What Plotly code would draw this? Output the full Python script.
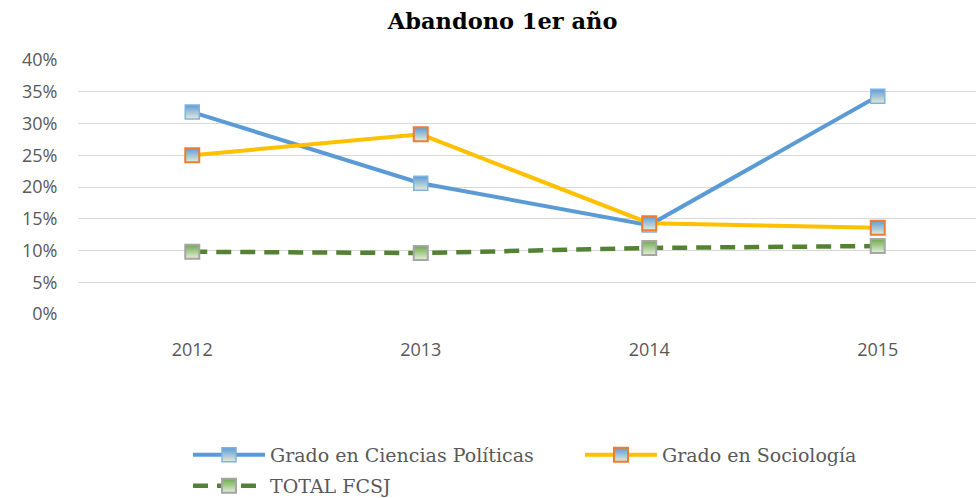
import plotly.graph_objects as go

years = ["2012", "2013", "2014", "2015"]
ciencias_politicas = [0.318, 0.206, 0.140, 0.343]
sociologia = [0.250, 0.283, 0.143, 0.136]
total_fcsj = [0.098, 0.096, 0.104, 0.107]
y_ticks = [0, 0.05, 0.10, 0.15, 0.20, 0.25, 0.30, 0.35, 0.40]

fig = go.Figure()

fig.add_trace(go.Scatter(
    x=years, y=ciencias_politicas, name="Grado en Ciencias Políticas",
    mode="lines+markers", legend="legend",
    line=dict(color="#5B9BD5", width=4),
    marker=dict(symbol="square", size=14, color="#5E9BD6",
                gradient=dict(type="vertical", color="#E3EDD8"),
                line=dict(color="#7FB2E0", width=1.5)),
))
fig.add_trace(go.Scatter(
    x=years, y=sociologia, name="Grado en Sociología",
    mode="lines+markers", legend="legend2",
    line=dict(color="#FFC000", width=4),
    marker=dict(symbol="square", size=14, color="#5E9BD6",
                gradient=dict(type="vertical", color="#E3EDD8"),
                line=dict(color="#ED7D31", width=2)),
))
fig.add_trace(go.Scatter(
    x=years, y=total_fcsj, name="TOTAL FCSJ",
    mode="lines+markers", legend="legend3",
    line=dict(color="#548235", width=4.5, dash="15px,9px"),
    marker=dict(symbol="square", size=14, color="#6DAA4C",
                gradient=dict(type="vertical", color="#E6F0DC"),
                line=dict(color="#A5A5A5", width=2)),
))

legend_font = dict(family="DejaVu Serif", size=19, color="#595959")
leg_common = dict(orientation="h", xanchor="left", yanchor="middle",
                  yref="container",
                  font=legend_font, itemwidth=72, bgcolor="rgba(0,0,0,0)")

fig.update_layout(
    width=976, height=498,
    paper_bgcolor="white", plot_bgcolor="white",
    margin=dict(l=78, r=0, t=60, b=184),
    title=dict(text="<b>Abandono 1er año</b>", x=0.515, xanchor="center",
               y=0.958, yanchor="middle",
               font=dict(family="DejaVu Serif", size=22.5, color="black")),
    xaxis=dict(type="category", range=[-0.5, 3.43], showgrid=False,
               showline=False, zeroline=False, automargin=False,
               ticks="outside", ticklen=19, tickcolor="rgba(0,0,0,0)",
               tickfont=dict(family="Open Sans", size=18, color="#595959")),
    yaxis=dict(range=[0, 0.40], tickvals=y_ticks, tickformat=".0%",
               showgrid=True, gridcolor="#D9D9D9", gridwidth=1,
               zeroline=False, showline=False, automargin=False,
               ticks="outside", ticklen=16, tickcolor="rgba(0,0,0,0)",
               tickfont=dict(family="Open Sans", size=18, color="#595959")),
    legend=dict(x=0.1225, y=0.0863, **leg_common),
    legend2=dict(x=0.559, y=0.0863, **leg_common),
    legend3=dict(x=0.1225, y=0.0241, **leg_common),
    showlegend=True,
)

fig.write_html("out.html", config={"displayModeBar": False},
               post_script="document.body.style.margin='0';document.body.style.overflow='hidden';")
